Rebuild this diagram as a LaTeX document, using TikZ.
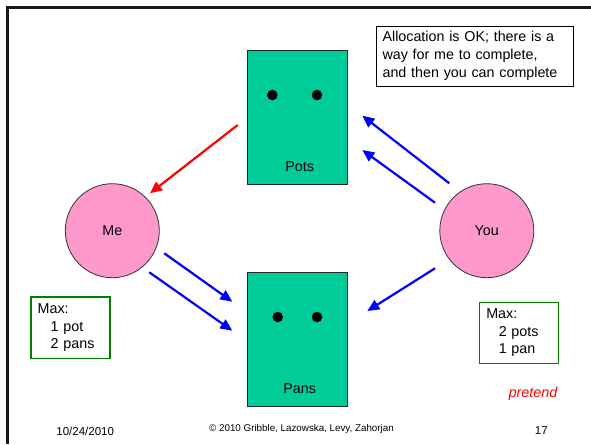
\documentclass[tikz,border=0pt]{standalone}
\usepackage{fontspec}
\setmainfont{Liberation Sans}
\usetikzlibrary{arrows.meta}
\definecolor{boxgreen}{RGB}{0,204,153}
\definecolor{pinkfill}{RGB}{255,153,204}
\definecolor{maxgreen}{RGB}{0,128,0}
\definecolor{myred}{RGB}{255,0,0}
\definecolor{myblue}{RGB}{0,0,255}
\tikzset{
  resbox/.style={draw=black!85, line width=1pt, fill=boxgreen, minimum width=99.5pt, minimum height=133.5pt, inner sep=0pt},
  dot/.style={circle, fill=black, minimum size=10.6pt, inner sep=0pt},
  proc/.style={circle, draw=black!80, line width=0.8pt, fill=pinkfill, minimum size=94pt, inner sep=0pt, font=\fontsize{14.3}{17.7}\selectfont},
  lbl/.style={inner sep=0pt, font=\fontsize{14.3}{17.7}\selectfont},
  maxbox/.style={draw=maxgreen, line width=1.3pt, inner xsep=6.8pt, inner ysep=0pt, minimum width=79.2pt, minimum height=61.3pt, align=left, font=\fontsize{14.3}{17.5}\selectfont},
  note/.style={draw=black, line width=0.9pt, inner xsep=6.3pt, inner ysep=0pt, minimum width=197pt, minimum height=60.3pt, align=left, text width=184.4pt, font=\fontsize{14.3}{18}\selectfont},
  redarrow/.style={draw=myred, line width=2.2pt, -{Triangle[length=12pt,width=10.5pt]}},
  bluearrow/.style={draw=myblue, line width=2.2pt, -{Triangle[length=12pt,width=10.5pt]}},
  foot/.style={inner sep=0pt, font=\fontsize{11.5}{13}\selectfont}
}
\begin{document}
\begin{tikzpicture}[x=1pt, y=-1pt]
\useasboundingbox (0,0) rectangle (591,444);
\fill[white] (0,0) rectangle (591,444);
% slide frame
\draw[line width=3pt, black!90] (591,7.6) -- (7.6,7.6) -- (7.6,444);

% resources
\node[resbox] (pots) at (297.3,117.35) {};
\node[resbox] (pans) at (297.3,339.35) {};
\node[dot] (potdot1) at (272.3,95) {};
\node[dot] (potdot2) at (317,95) {};
\node[dot] (pandot1) at (277.8,317) {};
\node[dot] (pandot2) at (317,317) {};
\node[lbl] (potslbl) at (299.7,167) {Pots};
\node[lbl] (panslbl) at (299.7,388.7) {Pans};

% processes
\node[proc] (me) at (112.3,230.7) {Me};
\node[proc] (you) at (486.8,230.7) {You};

% notes
\node[note] (alloc) at (474.75,56.15) {Allocation is OK; there is a\\ way for me to complete,\\ and then you can complete};
\node[maxbox, text width=65.6pt] (maxme) at (70.5,327.65) {Max:\\\hspace*{13pt}1 pot\\\hspace*{13pt}2 pans};
\node[maxbox, text width=65.6pt] (maxyou) at (519.05,332.8) {Max:\\\hspace*{12.5pt}2 pots\\\hspace*{12.5pt}1 pan};
\node[lbl, text=myred, font=\fontsize{14.3}{17.7}\selectfont\itshape] (pretend) at (533,394) {pretend};

% footer
\node[foot] (date) at (85.2,431) {10/24/2010};
\node[inner sep=0pt, font=\fontsize{9.8}{11}\selectfont] (copy) at (301.5,429.3) {© 2010 Gribble, Lazowska, Levy, Zahorjan};
\node[foot] (page) at (541.3,431) {17};

% arrow end points
\coordinate (r1s) at (237.7,125);
\coordinate (r1e) at (150,193.3);
\coordinate (b1s) at (449.3,183.3);
\coordinate (b1e) at (362.3,115.7);
\coordinate (b2s) at (435,202.7);
\coordinate (b2e) at (362.3,150);
\coordinate (b3s) at (164.3,253.3);
\coordinate (b3e) at (232.3,301.7);
\coordinate (b4s) at (149.3,272.3);
\coordinate (b4e) at (232.3,330.7);
\coordinate (b5s) at (435,268.3);
\coordinate (b5e) at (367.3,311);

\draw[redarrow] (r1s) -- (r1e);
\draw[bluearrow] (b1s) -- (b1e);
\draw[bluearrow] (b2s) -- (b2e);
\draw[bluearrow] (b3s) -- (b3e);
\draw[bluearrow] (b4s) -- (b4e);
\draw[bluearrow] (b5s) -- (b5e);
\end{tikzpicture}
\end{document}
